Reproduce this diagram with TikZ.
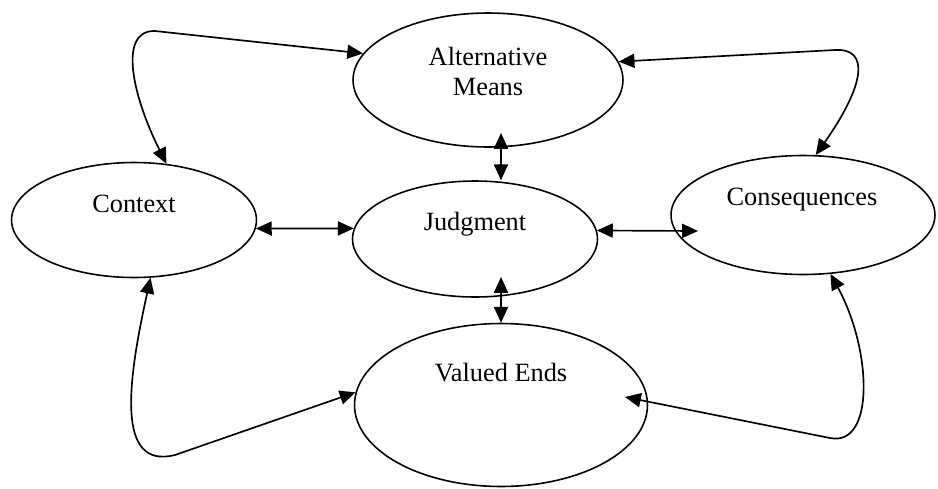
\documentclass[tikz,border=0pt]{standalone}
\usepackage{fontspec}
\setmainfont{Liberation Serif}
\usetikzlibrary{shapes.geometric,arrows.meta}

\begin{document}
\begin{tikzpicture}[x=0.02cm,y=-0.02cm,
    oval/.style={draw,ellipse,line width=0.9pt,inner sep=0pt},
    lbl/.style={anchor=base,font=\fontsize{15}{17}\selectfont,align=center},
    link/.style={{Triangle[length=9pt,width=8pt]}-{Triangle[length=9pt,width=8pt]},line width=0.95pt}]
            \useasboundingbox (0,0) rectangle (938,488);
            % the five ovals
            \node[oval,minimum width=5.4cm,minimum height=2.68cm] (am) at (488,80) {};
            \node[oval,minimum width=4.9cm,minimum height=2.3cm] (ctx) at (134,220) {};
            \node[oval,minimum width=4.9cm,minimum height=2.32cm] (jdg) at (475,239) {};
            \node[oval,minimum width=5.28cm,minimum height=2.38cm] (cons) at (803,215) {};
            \node[oval,minimum width=5.86cm,minimum height=3.26cm] (ve) at (501,405) {};
            \node[lbl] (am-t) at (488,95) {Alternative\\Means};
            \node[lbl] (ctx-t) at (134,212) {Context};
            \node[lbl] (jdg-t) at (475,230) {Judgment};
            \node[lbl] (cons-t) at (802,205) {Consequences};
            \node[lbl] (ve-t) at (501,381) {Valued Ends};
            \coordinate (am-in) at (501,133);
            \coordinate (jdg-in) at (501,277);
            \coordinate (cons-in) at (698,231);
            \coordinate (ve-in) at (625,397);
            % links
            \draw[link] (ctx.60) .. controls (132,95) and (118,30) .. (155,31) -- (am.168);
            \draw[link] (am.8) -- (835,50) .. controls (870,48) and (865,85) .. (cons.78);
            \draw[link] (am-in) -- (am-in |- jdg.north);
            \draw[link] (ctx.-4) -- (jdg.175);
            \draw[link] (jdg.4) -- (cons-in);
            \draw[link] (jdg-in) -- (jdg-in |- ve.north);
            \draw[link] (ctx.-74) .. controls (128,380) and (115,470) .. (175,455) -- (ve.175);
            \draw[link] (cons.-65) .. controls (872,350) and (875,447) .. (830,438) -- (ve-in);
        \end{tikzpicture}
\end{document}
